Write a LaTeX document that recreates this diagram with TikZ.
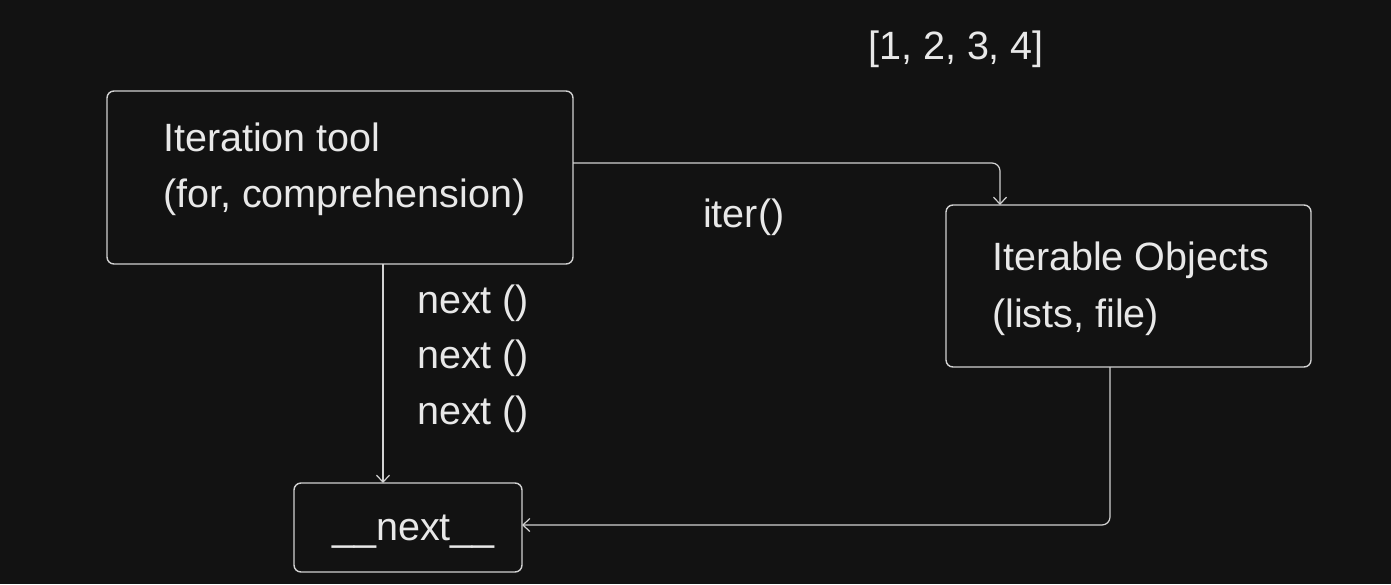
\documentclass[tikz,border=0pt]{standalone}
\usepackage{fontspec}
\setmainfont{Liberation Sans}
\usetikzlibrary{arrows.meta,calc}
\definecolor{bg}{HTML}{121212}
\definecolor{ink}{HTML}{D2D2D2}
\definecolor{txt}{HTML}{E8E8E8}
\begin{document}
\begin{tikzpicture}[x=1pt,y=-1pt,
  box/.style={draw=ink, line width=1.4pt, rounded corners=7pt, inner sep=0pt, outer sep=0pt},
  lbl/.style={text=txt, anchor=base west, inner sep=0pt, font=\fontsize{39.5}{48}\selectfont},
  conn/.style={draw=ink, line width=1.2pt, rounded corners=8pt,
    -{Straight Barb[length=7pt,width=13pt,line width=1.2pt]}}]
% canvas
\fill[bg] (0,0) rectangle (1391,584);
\useasboundingbox (0,0) rectangle (1391,584);

% boxes
\node[box, minimum width=466pt, minimum height=173pt] (tool) at (340,177.5) {};
\node[box, minimum width=365pt, minimum height=162pt] (io) at (1128.5,286) {};
\node[box, minimum width=228pt, minimum height=89pt] (nx) at (408,527.5) {};

% texts
\node[lbl] (toolA) at (163,151) {Iteration tool};
\node[lbl] (toolB) at (163,207) {(for, comprehension)};
\node[lbl] (ioA) at (992,270) {Iterable Objects};
\node[lbl] (ioB) at (992,327) {(lists, file)};
\node[lbl] (nxt) at (332,540) {\_\_next\_\_};
\node[lbl] (iterlbl) at (703,227) {iter()};
\node[lbl] (listlbl) at (868,59) {[1, 2, 3, 4]};
\node[lbl] (n1) at (417,313) {next ()};
\node[lbl] (n2) at (417,368) {next ()};
\node[lbl] (n3) at (417,424) {next ()};

% connectors
\draw[conn] ($(tool.north east)+(0,72)$) -| ($(io.north west)+(54,0)$);
\draw[conn] ($(tool.south west)+(276,0)$) -- ($(nx.north west)+(89,0)$);
\draw[conn] ($(io.south west)+(164,0)$) |- ($(nx.north east)+(0,42)$);
\end{tikzpicture}
\end{document}
